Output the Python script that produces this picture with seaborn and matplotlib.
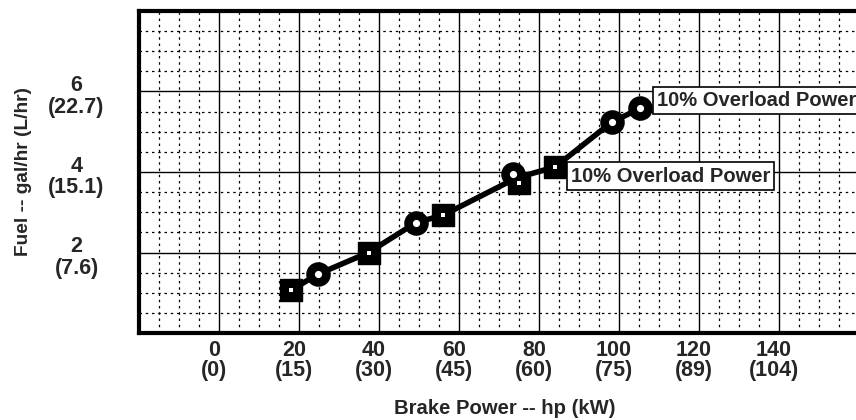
import matplotlib
matplotlib.use("Agg")
import matplotlib.pyplot as plt
import matplotlib.transforms as mtransforms
from matplotlib.ticker import MultipleLocator
import seaborn as sns
import numpy as np

# 数据
square_hp = [18.1, 37.4, 56.1, 74.9, 84.1]
square_gal = [1.07, 2.00, 2.93, 3.72, 4.13]
circle_hp = [24.7, 49.2, 73.6, 98.2, 105.3]
circle_gal = [1.46, 2.74, 3.96, 5.24, 5.58]
line_hp = [18.1, 24.7, 37.4, 49.2, 56.1, 74.3, 84.1, 98.2, 105.3]
line_gal = [1.07, 1.46, 2.00, 2.74, 2.93, 3.85, 4.13, 5.24, 5.58]

x_ticks = [-20, 0, 20, 40, 60, 80, 100, 120, 140, 160]
x_labels = ['', '0\n(0)', '20\n(15)', '40\n(30)', '60\n(45)', '80\n(60)',
            '100\n(75)', '120\n(89)', '140\n(104)', '']
y_ticks = [0, 2, 4, 6, 8]
y_labels = ['', '2\n(7.6)', '4\n(15.1)', '6\n(22.7)', '']

note_text = '10% Overload Power'
note_pos = [(88.0, 3.90), (109.5, 5.78)]

sns.set_theme(style='white')
plt.rcParams['font.family'] = ['Liberation Sans', 'DejaVu Sans']
plt.rcParams['font.weight'] = 'bold'
fs_tick = 15.5

fig = plt.figure(figsize=(8.56, 4.2), dpi=100)
ax = fig.add_axes([139 / 856, 87 / 420, 720 / 856, 322 / 420])

# 网格
ax.set_xlim(-20, 160)
ax.set_ylim(0, 8)
ax.set_xticks(x_ticks)
ax.set_xticklabels(x_labels, fontsize=fs_tick, fontweight='bold', linespacing=0.95)
ax.set_yticks(y_ticks)
ax.set_yticklabels(y_labels, fontsize=fs_tick, fontweight='bold', linespacing=1.05,
                   ha='center', va='center')
ax.xaxis.set_minor_locator(MultipleLocator(5))
ax.yaxis.set_minor_locator(MultipleLocator(0.5))
ax.grid(which='major', color='black', lw=1.0)
ax.grid(which='minor', color='black', lw=0.9, ls=(0, (2, 3)))
ax.set_axisbelow(True)
ax.tick_params(which='both', length=0)
ax.tick_params(axis='x', pad=5)
ax.tick_params(axis='y', pad=45)

for s in ['top', 'left', 'bottom']:
    ax.spines[s].set_linewidth(3)
    ax.spines[s].set_color('black')
ax.spines['right'].set_visible(False)

# 标签偏移
dx = mtransforms.ScaledTranslation(-5 / 100, 0, fig.dpi_scale_trans)
for lab in ax.get_xticklabels():
    lab.set_transform(lab.get_transform() + dx)
dy = mtransforms.ScaledTranslation(0, -5 / 100, fig.dpi_scale_trans)
for lab in ax.get_yticklabels():
    lab.set_transform(lab.get_transform() + dy)

# 曲线和点
sns.lineplot(x=line_hp, y=line_gal, color='black', lw=4, ax=ax, sort=False)
sns.scatterplot(x=square_hp, y=square_gal, marker='s', s=250, color='black',
                edgecolor='black', linewidth=1, ax=ax, zorder=3)
sns.scatterplot(x=square_hp, y=square_gal, marker='s', s=6, color='white',
                linewidth=0, ax=ax, zorder=4)
sns.scatterplot(x=circle_hp, y=circle_gal, marker='o', s=132, color='white',
                edgecolor='black', linewidth=6.2, ax=ax, zorder=3)

for x, y in note_pos:
    ax.text(x, y, note_text, fontsize=14.5, fontweight='bold', ha='left', va='center',
            zorder=5, bbox=dict(boxstyle='square,pad=0.2', fc='white', ec='black', lw=1.2))

ax.set_xlabel('Brake Power -- hp (kW)', fontsize=14.6, fontweight='bold')
ax.set_ylabel('Fuel -- gal/hr (L/hr)', fontsize=13.8, fontweight='bold')
ax.xaxis.set_label_coords(0.508, -0.205)
ax.yaxis.set_label_coords(-0.148, 0.5)

fig.savefig('out.png', dpi=100)
